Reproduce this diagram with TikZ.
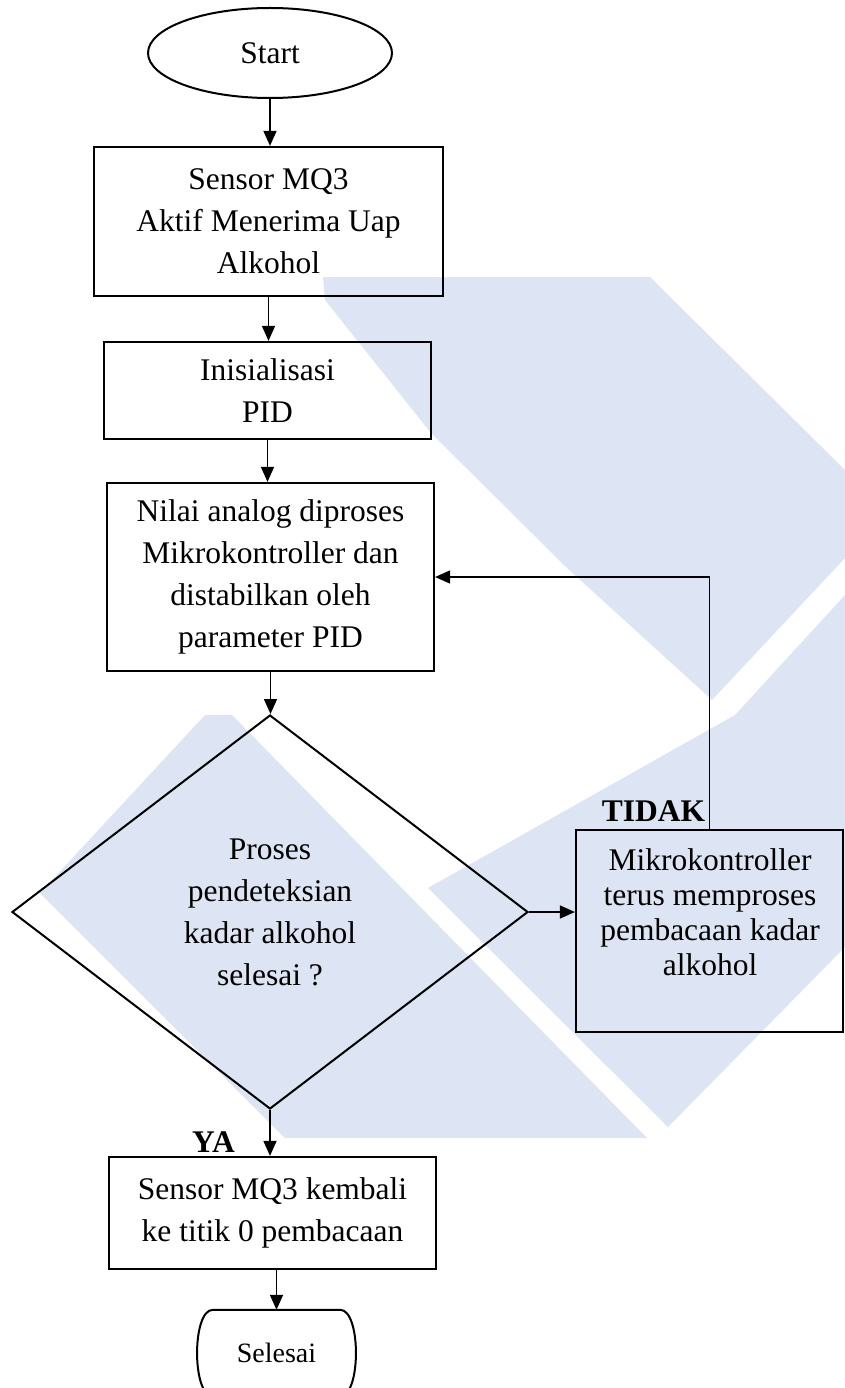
\documentclass[tikz,border=0pt]{standalone}
\usepackage{fontspec}
\setmainfont{Liberation Serif}
\usetikzlibrary{shapes.geometric,arrows.meta}
\definecolor{wm}{RGB}{221,228,243}
\begin{document}
\begin{tikzpicture}[x=1pt,y=-1pt,
  txt/.style={font=\fontsize{31.5}{42}\selectfont},
  box/.style={draw, line width=2.2pt, inner sep=0pt, align=center, txt},
  arr/.style={line width=1.5pt, -{Triangle[length=15pt,width=13pt]}},
  lbl/.style={font=\fontsize{31.5}{38}\selectfont\bfseries, inner sep=0pt}]
\useasboundingbox (0,0) rectangle (845,1388);
\clip (0,0) rectangle (845,1388);
\fill[white] (0,0) rectangle (845,1388);
% watermark
\fill[wm] (323,277) -- (650,277) -- (845,470) -- (845,558) -- (712,700) -- (566,567) -- (431,433) -- (325,300) -- cycle;
\fill[wm] (428,888) -- (735,715) -- (845,595) -- (845,947) -- (668,1127) -- cycle;
\fill[wm] (205,715) -- (232,715) -- (647,1138) -- (285,1138) -- (40,893) -- cycle;
% nodes
\node[draw, ellipse, line width=2pt, minimum width=244pt, minimum height=90pt, inner sep=0pt, txt] (start) at (270,53) {Start};
\node[box, minimum width=349pt, minimum height=149pt] (b1) at (268.5,221.5) {Sensor MQ3\\Aktif Menerima Uap\\Alkohol};
\node[box, minimum width=327pt, minimum height=97pt] (b2) at (267.5,390.5) {Inisialisasi\\PID};
\node[box, minimum width=327pt, minimum height=188pt] (b3) at (270.5,577) {Nilai analog diproses\\Mikrokontroller dan\\distabilkan oleh\\parameter PID};
\node[draw, diamond, line width=2pt, minimum width=516pt, minimum height=394pt, shape aspect=1.31, inner sep=0pt, align=center, txt] (dia) at (270,912) {Proses\\pendeteksian\\kadar alkohol\\selesai ?};
\node[draw, line width=2.2pt, minimum width=267pt, minimum height=202pt, inner sep=0pt] (b4) at (709.5,931) {};
\node[align=center, font=\fontsize{31.5}{35}\selectfont, inner sep=0pt] (b4t) at (710,912) {Mikrokontroller\\terus memproses\\pembacaan kadar\\alkohol};
\node[box, minimum width=327pt, minimum height=112pt] (b5) at (272.5,1213) {Sensor MQ3 kembali\\ke titik 0 pembacaan};
\node[minimum width=127pt, minimum height=86pt, inner sep=0pt, font=\fontsize{28}{34}\selectfont] (sel) at (276.5,1353) {Selesai};
\draw[line width=2pt] (sel.north west) -- (sel.north east) .. controls +(21pt,0pt) and +(21pt,0pt) .. (sel.south east) -- (sel.south west) .. controls +(-21pt,0pt) and +(-21pt,0pt) .. (sel.north west) -- cycle;
% labels
\node[lbl] (tidak) at (653.5,811) {TIDAK};
\node[lbl] (ya) at (213.5,1142) {YA};
% connectors
\draw[arr] (start.south) -- (start.south |- b1.north);
\draw[arr] (b1.south) -- (b1.south |- b2.north);
\draw[arr] (b2.south) -- (b2.south |- b3.north);
\draw[arr] (b3.south) -- (b3.south |- dia.north);
\draw[arr] (dia.east) -- (dia.east -| b4.west);
\draw[arr] (b4.north) |- (b3.east);
\draw[arr] (dia.south) -- (dia.south |- b5.north);
\draw[arr] (b5.south -| sel.north) -- (sel.north);
\end{tikzpicture}
\end{document}
